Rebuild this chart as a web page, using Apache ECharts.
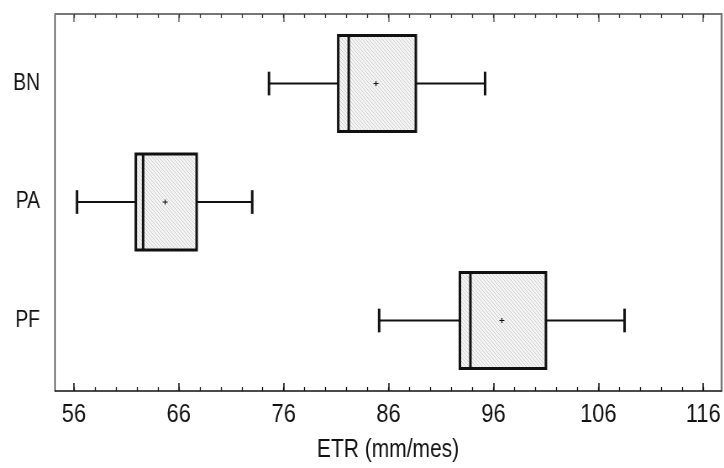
<!DOCTYPE html>
<html>
<head>
<meta charset="utf-8">
<script src="https://cdn.jsdelivr.net/npm/echarts@6/dist/echarts.min.js"></script>
<style>
  html, body { margin: 0; padding: 0; background: #fff; }
  #wrap { position: relative; width: 724px; height: 468px; overflow: hidden; }
  /* Le graphique d'origine a un texte étroit : on dessine plus large puis on compresse en X */
  #chart { position: absolute; left: 0; top: 0; width: 862px; height: 468px; transform: scaleX(0.84); transform-origin: 0 0; }
</style>
</head>
<body>
<div id="wrap"><div id="chart"></div></div>
<script>
// Données (ETR mensuelle par station)
const categories = ['BN', 'PA', 'PF'];
const minValues = [74.6, 56.3, 85.1];
const q1Values = [81.2, 61.9, 92.8];
const medianValues = [82.2, 62.6, 93.8];
const q3Values = [88.6, 67.7, 101.0];
const maxValues = [95.2, 73.0, 108.5];
const meanValues = [84.8, 64.7, 96.8];
const majorTicks = [56, 66, 76, 86, 96, 106, 116];
const minorTicks = [56, 58, 60, 62, 64, 66, 68, 70, 72, 74, 76, 78, 80, 82, 84, 86, 88, 90,
  92, 94, 96, 98, 100, 102, 104, 106, 108, 110, 112, 114, 116];

const SX = 0.84;
const FONT = '"Liberation Sans", Arial, sans-serif';

// Motif hachuré pour le remplissage des boîtes
const hatch = document.createElement('canvas');
hatch.width = 4;
hatch.height = 4;
const hctx = hatch.getContext('2d');
hctx.fillStyle = '#f4f4f4';
hctx.fillRect(0, 0, 4, 4);
hctx.strokeStyle = '#d2d2d2';
hctx.lineWidth = 1;
hctx.beginPath();
hctx.moveTo(-1, -1); hctx.lineTo(5, 5);
hctx.moveTo(3, -1); hctx.lineTo(5, 1);
hctx.moveTo(-1, 3); hctx.lineTo(1, 5);
hctx.stroke();

const data = categories.map((c, i) => [i + 1, minValues[i], q1Values[i], medianValues[i],
  q3Values[i], maxValues[i], meanValues[i]]);

const xMin = 54.2, xMax = 117.7;

function baseX(extra) {
  return Object.assign({
    type: 'value', min: xMin, max: xMax,
    splitLine: { show: false },
    axisLabel: { show: false },
    axisLine: { show: false },
    axisTick: { show: false }
  }, extra);
}

const chart = echarts.init(document.getElementById('chart'));

chart.setOption({
  animation: false,
  grid: { left: 55 / SX, right: 3 / SX, top: 14, bottom: 69 },
  xAxis: [
    baseX({
      position: 'bottom',
      name: 'ETR (mm/mes)',
      nameLocation: 'middle',
      nameGap: 47,
      nameTextStyle: { fontFamily: FONT, fontSize: 25, color: '#111' },
      axisLine: { show: true, onZero: false, lineStyle: { color: '#111', width: 1.5 } },
      axisTick: { show: true, inside: true, length: 8, customValues: majorTicks, lineStyle: { color: '#111', width: 1.6 } },
      axisLabel: { show: true, customValues: majorTicks, margin: 11, fontFamily: FONT, fontSize: 26, color: '#111' }
    }),
    baseX({
      position: 'bottom',
      axisTick: { show: true, inside: true, length: 4, customValues: minorTicks, lineStyle: { color: '#111', width: 1.3 } }
    }),
    baseX({
      position: 'top',
      axisLine: { show: true, onZero: false, lineStyle: { color: '#777', width: 2 } },
      axisTick: { show: true, inside: true, length: 8, customValues: majorTicks, lineStyle: { color: '#666', width: 1.6 } }
    }),
    baseX({
      position: 'top',
      axisTick: { show: true, inside: true, length: 4, customValues: minorTicks, lineStyle: { color: '#333', width: 1.3 } }
    })
  ],
  yAxis: [
    {
      type: 'value', inverse: true, min: 0.413, max: 3.595,
      position: 'left',
      splitLine: { show: false },
      axisLine: { show: true, onZero: false, lineStyle: { color: '#111', width: 1.2 } },
      axisTick: { show: false },
      axisLabel: {
        customValues: [1, 2, 3],
        formatter: v => categories[Math.round(v) - 1],
        margin: 15 / SX, padding: [5, 0, 0, 0],
        fontFamily: FONT, fontSize: 23, color: '#111'
      }
    },
    {
      type: 'value', inverse: true, min: 0.413, max: 3.595,
      position: 'right',
      splitLine: { show: false },
      axisLine: { show: true, onZero: false, lineStyle: { color: '#777', width: 2.4 } },
      axisTick: { show: false },
      axisLabel: { show: false }
    }
  ],
  series: [{
    type: 'custom',
    xAxisIndex: 0,
    yAxisIndex: 0,
    data: data,
    encode: { x: [1, 2, 3, 4, 5, 6], y: 0 },
    renderItem: function (params, api) {
      const y = api.value(0);
      const pMin = api.coord([api.value(1), y]);
      const pQ1 = api.coord([api.value(2), y]);
      const pMed = api.coord([api.value(3), y]);
      const pQ3 = api.coord([api.value(4), y]);
      const pMax = api.coord([api.value(5), y]);
      const pMean = api.coord([api.value(6), y]);
      const half = api.size([0, 0.81])[1] / 2;
      const cap = api.size([0, 0.2])[1] / 2;
      const cy = pQ1[1];
      const line = (x1, y1, x2, y2, w) => ({
        type: 'line',
        shape: { x1: x1, y1: y1, x2: x2, y2: y2 },
        style: { stroke: '#111', lineWidth: w }
      });
      return {
        type: 'group',
        children: [
          line(pMin[0], cy, pQ1[0], cy, 2),
          line(pQ3[0], cy, pMax[0], cy, 2),
          line(pMin[0], cy - cap, pMin[0], cy + cap, 3),
          line(pMax[0], cy - cap, pMax[0], cy + cap, 3),
          {
            type: 'rect',
            shape: { x: pQ1[0], y: cy - half, width: pQ3[0] - pQ1[0], height: half * 2 },
            style: { fill: { image: hatch, repeat: 'repeat' }, stroke: '#111', lineWidth: 3 }
          },
          line(pMed[0], cy - half, pMed[0], cy + half, 3),
          line(pMean[0] - 3, pMean[1], pMean[0] + 3, pMean[1], 1),
          line(pMean[0], pMean[1] - 2.5, pMean[0], pMean[1] + 2.5, 1.2)
        ]
      };
    }
  }]
});
</script>
</body>
</html>
